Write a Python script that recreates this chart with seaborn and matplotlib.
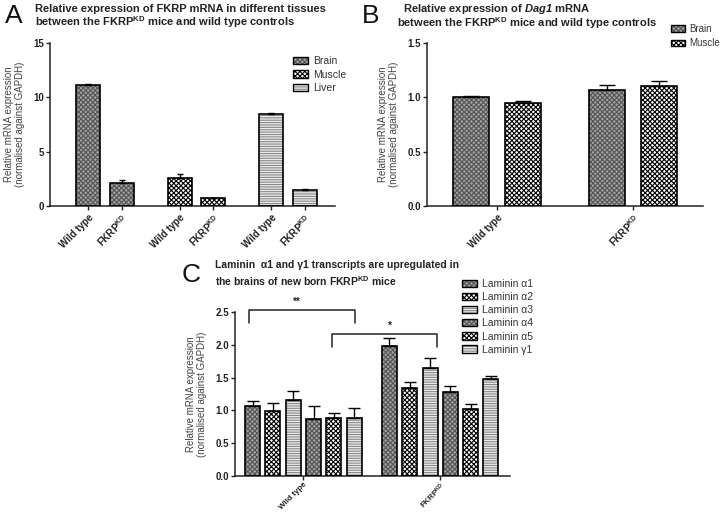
import matplotlib
matplotlib.use("Agg")
import pandas as pd
import matplotlib.pyplot as plt
from matplotlib.patches import Patch, Rectangle
import seaborn as sns

# ---- data ----
KD = r"FKRP$^{\mathbf{KD}}$"

# panel A: FKRP mRNA per tissue
a_tissues = ["Brain", "Brain", "Muscle", "Muscle", "Liver", "Liver"]
a_labels = ["Wild type", KD, "Wild type", KD, "Wild type", KD]
a_pos = [0, 1, 2.75, 3.75, 5.5, 6.5]
a_means = [11.1, 2.1, 2.55, 0.7, 8.45, 1.5]
a_sem = [0.1, 0.25, 0.4, 0.06, 0.1, 0.04]

# panel B: Dag1 mRNA
b_groups = ["Wild type", KD]
b_tissues = ["Brain", "Muscle"]
b_brain = [1.0, 1.07]
b_brain_sem = [0.015, 0.045]
b_muscle = [0.95, 1.10]
b_muscle_sem = [0.02, 0.05]

# panel C: laminin transcripts in brain
c_genes = ["Laminin α1", "Laminin α2", "Laminin α3",
           "Laminin α4", "Laminin α5", "Laminin γ1"]
c_groups = ["Wild type", KD]
c_wt = [1.07, 0.99, 1.16, 0.87, 0.88, 0.88]
c_wt_sem = [0.07, 0.13, 0.13, 0.19, 0.08, 0.15]
c_kd = [1.98, 1.34, 1.64, 1.28, 1.02, 1.48]
c_kd_sem = [0.12, 0.09, 0.16, 0.09, 0.08, 0.04]

# ---- styling ----
sns.set_theme(style="ticks", context="paper")
plt.rcParams["font.family"] = ["Liberation Sans", "DejaVu Sans"]
plt.rcParams["mathtext.fontset"] = "custom"
plt.rcParams["mathtext.rm"] = "Liberation Sans"
plt.rcParams["mathtext.bf"] = "Liberation Sans:bold"
plt.rcParams["mathtext.it"] = "Liberation Sans:italic"
plt.rcParams["mathtext.bfit"] = "Liberation Sans:bold:italic"
plt.rcParams["hatch.linewidth"] = 0.8

STYLES = {
    "brain": dict(fc="#a0a0a0", hc="#555555", hatch="xxxxxxx"),
    "muscle": dict(fc="white", hc="black", hatch="xxxxxxx"),
    "liver": dict(fc="#ececec", hc="#888888", hatch="-------"),
}
W, H = 720, 514

fig = plt.figure(figsize=(W / 100, H / 100), dpi=100)


def add_ax(x0, y0, x1, y1):
    return fig.add_axes([x0 / W, 1 - y1 / H, (x1 - x0) / W, (y1 - y0) / H])


def style_bars(ax, styles, sems, capsize):
    bars = sorted(ax.patches, key=lambda p: p.get_x())
    for p, st, err in zip(bars, styles, sems):
        s = STYLES[st]
        p.set_facecolor(s["fc"])
        p.set_edgecolor(s["hc"])
        p.set_hatch(s["hatch"])
        p.set_linewidth(0)
        ax.add_patch(Rectangle(p.get_xy(), p.get_width(), p.get_height(),
                               fill=False, ec="black", lw=1.2, zorder=3))
        xc = p.get_x() + p.get_width() / 2
        ax.errorbar(xc, p.get_height(), yerr=[[0], [err]], fmt="none",
                    ecolor="black", elinewidth=1, capsize=capsize,
                    capthick=1, zorder=2)


def handle(st):
    s = STYLES[st]
    return (Patch(fc=s["fc"], ec=s["hc"], hatch=s["hatch"], lw=0),
            Patch(fill=False, ec="black", lw=1))


def tidy(ax, ylim, yticks, fmt):
    sns.despine(ax=ax)
    ax.set_ylim(*ylim)
    ax.set_yticks(yticks)
    ax.set_yticklabels([fmt.format(v) for v in yticks])
    for s in ("left", "bottom"):
        ax.spines[s].set_linewidth(1.1)
        ax.spines[s].set_color("#222222")
    ax.tick_params(axis="both", length=3, width=1, color="#222222",
                   labelsize=7, labelcolor="#222222", pad=1.5)
    for t in ax.get_yticklabels():
        t.set_fontweight("bold")
    ax.set_xlabel("")
    ax.set_ylabel("Relative mRNA expression\n(normalised against GAPDH)",
                  fontsize=7, color="#444444", labelpad=6, linespacing=1.1)


def xlabels(ax, ticks, labels, size=7):
    ax.set_xticks(ticks)
    ax.set_xticklabels(labels, rotation=45, ha="right",
                       rotation_mode="anchor", fontweight="bold",
                       fontsize=size, color="#222222")


# ---- panel A ----
axA = add_ax(50, 43, 335, 206)
df_a = pd.DataFrame({"pos": a_pos, "value": a_means, "tissue": a_tissues})
sns.barplot(data=df_a, x="pos", y="value", hue="tissue", native_scale=True,
            dodge=False, width=0.72, errorbar=None, legend=False, ax=axA)
style_bars(axA, [t.lower() for t in a_tissues], a_sem, 2.5)
tidy(axA, (0, 15), [0, 5, 10, 15], "{:.0f}")
axA.set_xlim(-1.15, 7.41)
xlabels(axA, a_pos, a_labels)
axA.legend([handle("brain"), handle("muscle"), handle("liver")],
           ["Brain", "Muscle", "Liver"], loc="upper left",
           bbox_to_anchor=(293 / W, 1 - 56 / H), bbox_transform=fig.transFigure,
           frameon=False, fontsize=7.5, borderpad=0, borderaxespad=0,
           handlelength=1.4, handleheight=0.7, handletextpad=0.5,
           labelspacing=0.35, labelcolor="#333333")

# ---- panel B ----
axB = add_ax(427, 43, 703, 206)
df_b = pd.DataFrame({
    "group": b_groups * 2,
    "tissue": ["Brain"] * 2 + ["Muscle"] * 2,
    "value": b_brain + b_muscle,
})
sns.barplot(data=df_b, x="group", y="value", hue="tissue", order=b_groups,
            hue_order=b_tissues, width=0.76, gap=0.3, errorbar=None,
            legend=False, ax=axB)
style_bars(axB, ["brain", "muscle", "brain", "muscle"],
           [b_brain_sem[0], b_muscle_sem[0], b_brain_sem[1], b_muscle_sem[1]],
           6)
tidy(axB, (0, 1.5), [0, 0.5, 1.0, 1.5], "{:.1f}")
axB.set_xlim(-0.515, 1.515)
xlabels(axB, [0, 1], b_groups)
axB.legend([handle("brain"), handle("muscle")], b_tissues, loc="upper left",
           bbox_to_anchor=(671 / W, 1 - 24 / H), bbox_transform=fig.transFigure,
           frameon=False, fontsize=7, borderpad=0, borderaxespad=0,
           handlelength=1.4, handleheight=0.7, handletextpad=0.5,
           labelspacing=0.45, labelcolor="#333333")

# ---- panel C ----
axC = add_ax(235, 312, 510, 476)
df_c = pd.DataFrame({
    "group": [c_groups[0]] * 6 + [c_groups[1]] * 6,
    "gene": c_genes * 2,
    "value": c_wt + c_kd,
})
sns.barplot(data=df_c, x="group", y="value", hue="gene", order=c_groups,
            hue_order=c_genes, width=0.89, gap=0.26, errorbar=None,
            legend=False, ax=axC)
c_styles = ["brain", "muscle", "liver"] * 2
style_bars(axC, c_styles * 2, c_wt_sem + c_kd_sem, 4.5)
tidy(axC, (0, 2.5), [0, 0.5, 1.0, 1.5, 2.0, 2.5], "{:.1f}")
axC.set_xlim(-0.50, 1.51)
xlabels(axC, [0, 1], c_groups, size=5.8)
axC.tick_params(axis="x", pad=0.5)
axC.legend([handle(s) for s in c_styles], c_genes, loc="upper left",
           bbox_to_anchor=(462 / W, 1 - 279 / H), bbox_transform=fig.transFigure,
           frameon=False, fontsize=7.5, borderpad=0, borderaxespad=0,
           handlelength=1.4, handleheight=0.7, handletextpad=0.5,
           labelspacing=0.3, labelcolor="#333333")

# significance brackets
for x0, x1, ytop, ybot, star, xs in [(-0.40, 0.377, 2.53, 2.33, "**", -0.05),
                                      (0.21, 0.975, 2.16, 1.96, "*", 0.63)]:
    axC.plot([x0, x0, x1, x1], [ybot, ytop, ytop, ybot], color="#222222",
             lw=1.1, clip_on=False)
    axC.text(xs, ytop + 0.05, star, ha="center", va="bottom", fontsize=7,
             fontweight="bold", color="#222222", clip_on=False)

# ---- titles ----
title_kw = dict(fontsize=8, fontweight="bold", color="#222222", va="center")
fig.text(5 / W, 1 - 16 / H, "A", fontsize=19, va="center", color="#111111")
fig.text(35 / W, 1 - 9 / H,
         "Relative expression of FKRP mRNA in different tissues", **title_kw)
fig.text(35 / W, 1 - 22 / H,
         r"between the FKRP$^{\mathbf{KD}}$ mice and wild type controls",
         **title_kw)
fig.text(362 / W, 1 - 16 / H, "B", fontsize=19, va="center", color="#111111")
fig.text(403 / W, 1 - 9 / H,
         r"Relative expression of $\mathbfit{Dag1}$ mRNA", **title_kw)
fig.text(397 / W, 1 - 23 / H,
         r"between the FKRP$^{\mathbf{KD}}$ mice and wild type controls",
         **title_kw)
fig.text(182 / W, 1 - 275 / H, "C", fontsize=19, va="center", color="#111111")
title_c = dict(title_kw, fontsize=7.5)
fig.text(215 / W, 1 - 265 / H,
         "Laminin  α1 and γ1 transcripts are upregulated in", **title_c)
fig.text(215 / W, 1 - 281 / H,
         r"the brains of new born FKRP$^{\mathbf{KD}}$ mice", **title_c)

fig.savefig("out.png", dpi=100)
